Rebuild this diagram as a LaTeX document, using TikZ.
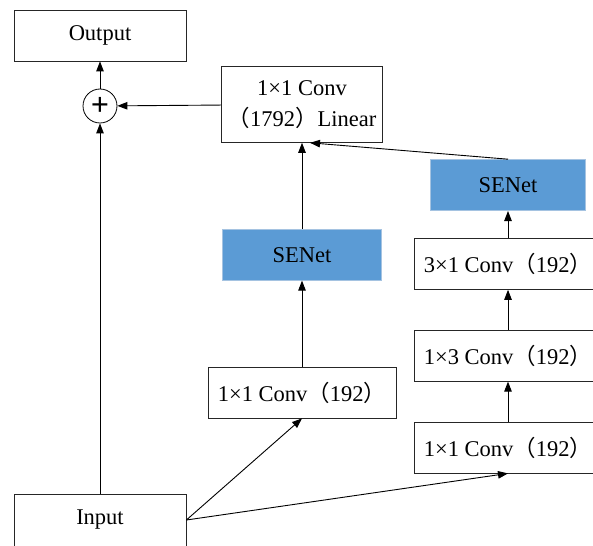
\documentclass[tikz,border=0pt]{standalone}
\usepackage{fontspec}
\setmainfont{Liberation Serif}
\newfontfamily\cjk{Noto Sans CJK SC}
\usetikzlibrary{positioning, arrows.meta}
\definecolor{seblue}{RGB}{91,155,213}
\definecolor{seedge}{RGB}{165,195,225}
\newcommand{\cnlp}{{\cjk （}}
\newcommand{\cnrp}{{\cjk ）}}
\tikzset{
  block/.style={
    draw=black!85,
    line width=0.8pt,
    rectangle,
    minimum height=51pt,
    inner sep=0pt,
    align=center,
    fill=white
  },
  senet/.style={
    block,
    draw=seedge,
    fill=seblue
  },
  flow/.style={
    line width=0.9pt,
    -{Triangle[length=10pt,width=7.5pt]}
  }
}
\begin{document}
\begin{tikzpicture}[x=1pt, y=-1pt, font=\fontsize{22.5}{31}\selectfont]
        \useasboundingbox (0,0) rectangle (593,545);
        \clip (0,0) rectangle (593,545);
        % left: input, sum, output
        \node[block, minimum width=172pt] (out) at (100,35.5) {Output};
        \node[draw, line width=0.8pt, circle, minimum size=34pt, inner sep=0pt,
              font=\fontsize{32}{32}\selectfont\bfseries] (sum) at (100,106) {+};
        \node[block, minimum width=172pt, minimum height=52pt] (inp) at (100,520) {Input};

        % middle branch
        \node[block, minimum width=188pt] (mconv) at (302,392.5) {1×1 Conv\cnlp192\cnrp};
        \node[senet, minimum width=159pt, above=86pt of mconv] (msen) {SENet};
        \node[block, minimum width=161pt, minimum height=76pt, above=86pt of msen] (lin)
              {1×1 Conv\\\cnlp1792\cnrp Linear};

        % right branch
        \node[block, minimum width=188pt] (rconv) at (508,447.5) {1×1 Conv\cnlp192\cnrp};
        \node[block, minimum width=188pt, above=40pt of rconv] (rconvb) {1×3 Conv\cnlp192\cnrp};
        \node[block, minimum width=188pt, above=40pt of rconvb] (rconvc) {3×1 Conv\cnlp192\cnrp};
        \node[senet, minimum width=155pt, above=27pt of rconvc] (rsen) {SENet};

        \coordinate (linin) at ([xshift=8pt]lin.south);

        \draw[flow] (inp) -- (sum);
        \draw[flow] (sum) -- (out);
        \draw[flow] (lin) -- (sum);
        \draw[flow] (inp.east) -- (mconv.south);
        \draw[flow] (inp.east) -- (rconv.south);
        \draw[flow] (mconv) -- (msen);
        \draw[flow] (msen) -- (lin);
        \draw[flow] (rconv) -- (rconvb);
        \draw[flow] (rconvb) -- (rconvc);
        \draw[flow] (rconvc) -- (rsen);
        \draw[flow] (rsen.north) -- (linin);
      \end{tikzpicture}
\end{document}
